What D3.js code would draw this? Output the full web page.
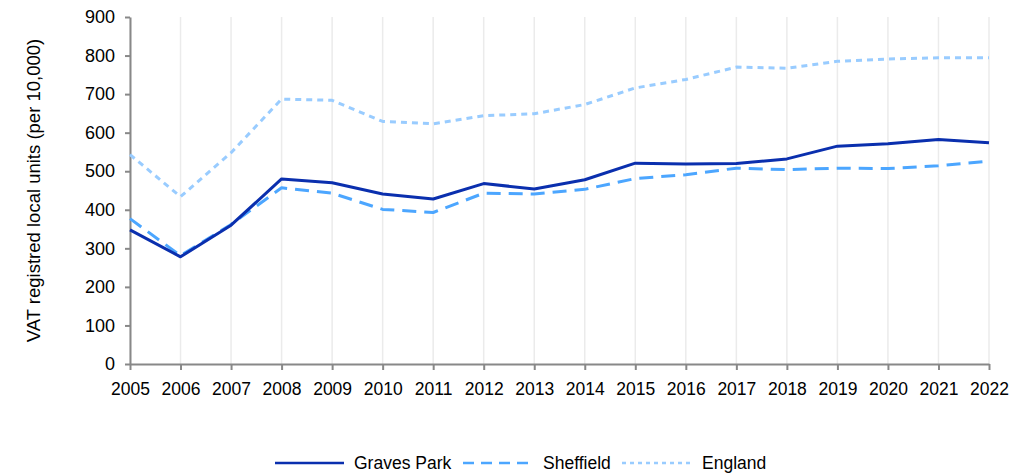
<!DOCTYPE html>
<html>
<head>
<meta charset="utf-8">
<script src="https://cdn.jsdelivr.net/npm/d3@7"></script>
<style>
  html, body { margin: 0; padding: 0; background: #ffffff; }
  svg { display: block; }
</style>
</head>
<body>
<svg id="chart" width="1027" height="473"></svg>
<script>
// VAT registered local units per 10,000 population, 2005–2022
const years = [2005, 2006, 2007, 2008, 2009, 2010, 2011, 2012, 2013, 2014, 2015, 2016, 2017, 2018, 2019, 2020, 2021, 2022];
const gravesPark = [348, 278, 360, 480, 470, 441, 428, 468, 454, 478, 521, 519, 520, 532, 565, 571, 582, 574];
const sheffield  = [377, 281, 362, 457, 443, 401, 393, 443, 441, 453, 481, 491, 508, 504, 508, 507, 514, 526];
const england    = [543, 434, 548, 687, 684, 629, 623, 644, 649, 673, 716, 738, 770, 767, 785, 791, 794, 794];
const yTicks = [0, 100, 200, 300, 400, 500, 600, 700, 800, 900];

const series = [
  { name: "Graves Park", values: gravesPark, color: "#0a2fae", dash: null },
  { name: "Sheffield",   values: sheffield,  color: "#4ca6ff", dash: "14,8" },
  { name: "England",     values: england,    color: "#99ccff", dash: "6,5" }
];

const FONT = "'Liberation Sans', Arial, sans-serif";
const svg = d3.select("#chart");
const plotLeft = 130, plotRight = 989, plotTop = 17, plotBottom = 364;

const x = d3.scaleLinear().domain([years[0], years[years.length - 1]]).range([plotLeft, plotRight]);
const y = d3.scaleLinear().domain([0, 900]).range([plotBottom, plotTop]);

// vertical gridlines
svg.append("g")
  .selectAll("line")
  .data(years)
  .join("line")
  .attr("x1", d => x(d)).attr("x2", d => x(d))
  .attr("y1", plotTop).attr("y2", plotBottom)
  .attr("stroke", "#ebebeb")
  .attr("stroke-width", 1.5);

// y axis
const yAxis = svg.append("g")
  .attr("transform", `translate(${plotLeft},0)`)
  .call(d3.axisLeft(y).tickValues(yTicks).tickSize(5).tickPadding(10).tickSizeOuter(0));
yAxis.select(".domain").attr("stroke", "#888888").attr("stroke-width", 2);
yAxis.selectAll(".tick line").attr("stroke", "#888888").attr("stroke-width", 2);
yAxis.selectAll(".tick text")
  .attr("fill", "#000")
  .style("font-family", FONT)
  .style("font-size", "18px");

// x axis
const xAxis = svg.append("g")
  .attr("transform", `translate(0,${plotBottom})`)
  .call(d3.axisBottom(x).tickValues(years).tickFormat(d3.format("d")).tickSize(6).tickPadding(13).tickSizeOuter(0));
xAxis.select(".domain").attr("stroke", "#888888").attr("stroke-width", 2);
xAxis.selectAll(".tick line").attr("stroke", "#888888").attr("stroke-width", 2);
xAxis.selectAll(".tick text")
  .attr("fill", "#000")
  .style("font-family", FONT)
  .style("font-size", "17.5px");

// y axis title
svg.append("text")
  .attr("transform", `translate(40,${(plotTop + plotBottom) / 2}) rotate(-90)`)
  .attr("text-anchor", "middle")
  .style("font-family", FONT)
  .style("font-size", "18.5px")
  .attr("fill", "#000")
  .text("VAT registred local units (per 10,000)");

// lines
const line = d3.line()
  .x((d, i) => x(years[i]))
  .y(d => y(d));

series.slice().reverse().forEach(s => {
  svg.append("path")
    .datum(s.values)
    .attr("d", line)
    .attr("fill", "none")
    .attr("stroke", s.color)
    .attr("stroke-width", 3)
    .attr("stroke-dasharray", s.dash)
    .attr("stroke-linejoin", "round");
});

// legend
const legendItems = [
  { x0: 275, x1: 344, tx: 354 },
  { x0: 463, x1: 533, tx: 543 },
  { x0: 622, x1: 690, tx: 702 }
];
const legendY = 463;
const legend = svg.append("g");
series.forEach((s, i) => {
  const p = legendItems[i];
  legend.append("line")
    .attr("x1", p.x0).attr("x2", p.x1)
    .attr("y1", legendY).attr("y2", legendY)
    .attr("stroke", s.color)
    .attr("stroke-width", 2.5)
    .attr("stroke-dasharray", i === 0 ? null : (i === 1 ? "11,7" : "4,4"));
  legend.append("text")
    .attr("x", p.tx).attr("y", legendY)
    .attr("dy", "0.35em")
    .style("font-family", FONT)
    .style("font-size", "17.5px")
    .attr("fill", "#000")
    .text(s.name);
});
</script>
</body>
</html>
